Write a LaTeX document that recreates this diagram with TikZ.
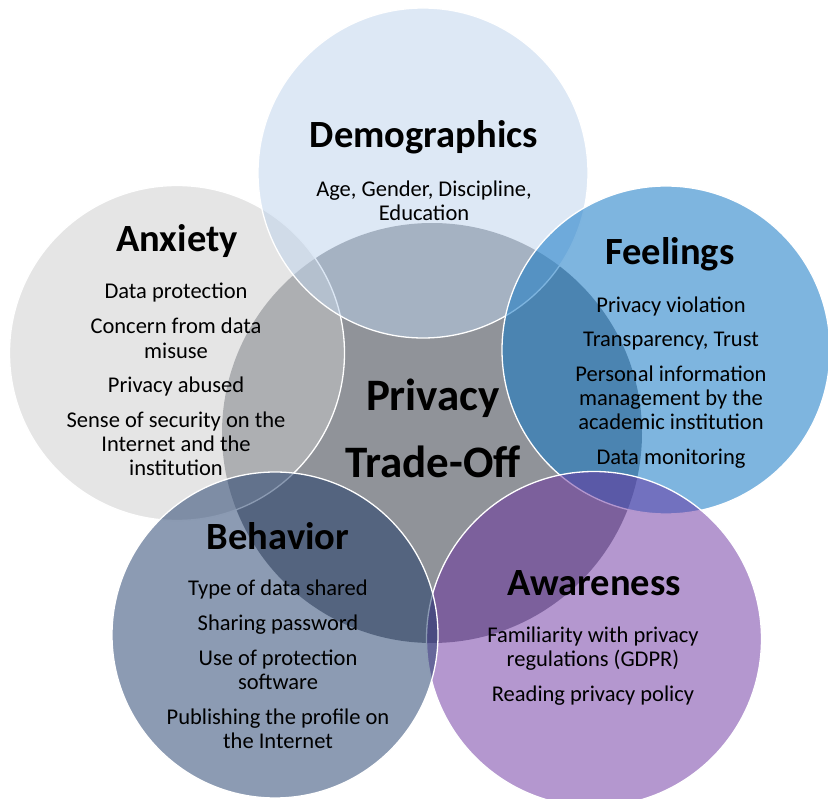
\documentclass[tikz,border=0pt]{standalone}
\usepackage{fontspec}
\setmainfont{Carlito}
\definecolor{hubgray}{RGB}{144,147,153}
\definecolor{demoblue}{RGB}{187,209,235}
\definecolor{anxgray}{RGB}{203,203,203}
\definecolor{feelblue}{RGB}{20,120,197}
\definecolor{behavnavy}{RGB}{25,55,103}
\definecolor{awarepurple}{RGB}{105,47,159}
\begin{document}
\begin{tikzpicture}[x=1pt,y=-1pt]
  \tikzstyle{ring}=[circle, draw=white, line width=1.3pt, fill opacity=0.5, inner sep=0pt]
  \tikzstyle{heading}=[font=\fontsize{38.5}{46}\selectfont\bfseries, anchor=base]
  \tikzstyle{items}=[font=\fontsize{22.5}{24}\selectfont, align=center, anchor=base]
  \useasboundingbox (0,0) rectangle (828,799);
  % middle circle
  \node[circle, fill=hubgray, minimum size=420pt, inner sep=0pt] (hub) at (432,433) {};
  % outer circles
  \node[ring, fill=anxgray, minimum size=335pt] (anxiety) at (177,353) {};
  \node[ring, fill=demoblue, minimum size=330pt] (demo) at (423,173) {};
  \node[ring, fill=feelblue, fill opacity=0.55, minimum size=328pt] (feel) at (666,350) {};
  \node[ring, fill=awarepurple, minimum size=335pt] (aware) at (594,639) {};
  \node[ring, fill=behavnavy, minimum size=326pt] (behav) at (275,635) {};
  % texts (base = last line)
  \node[font=\fontsize{45}{52}\selectfont\bfseries, align=center, anchor=base] (trade) at (433,478) {Privacy\\[15pt]Trade-Off};
  \node[heading] (demotitle) at (424,148) {Demographics};
  \node[items] (demotext) at (424,221) {Age, Gender, Discipline,\\Education};
  \node[heading] (anxtitle) at (177,252) {Anxiety};
  \node[items] (anxtext) at (176,476) {Data protection\\[11pt]Concern from data\\misuse\\[11pt]Privacy abused\\[11pt]Sense of security on the\\Internet and the\\institution};
  \node[heading] (feeltitle) at (670,265) {Feelings};
  \node[items] (feeltext) at (671,465) {Privacy violation\\[11pt]Transparency, Trust\\[11pt]Personal information\\management by the\\academic institution\\[11pt]Data monitoring};
  \node[heading] (behavtitle) at (278,550) {Behavior};
  \node[items] (behavtext) at (278,748) {Type of data shared\\[11pt]Sharing password\\[11pt]Use of protection\\software\\[11pt]Publishing the profile on\\the Internet};
  \node[heading] (awaretitle) at (594,595) {Awareness};
  \node[items] (awaretext) at (593,701) {Familiarity with privacy\\regulations (GDPR)\\[11pt]Reading privacy policy};
\end{tikzpicture}
\end{document}
